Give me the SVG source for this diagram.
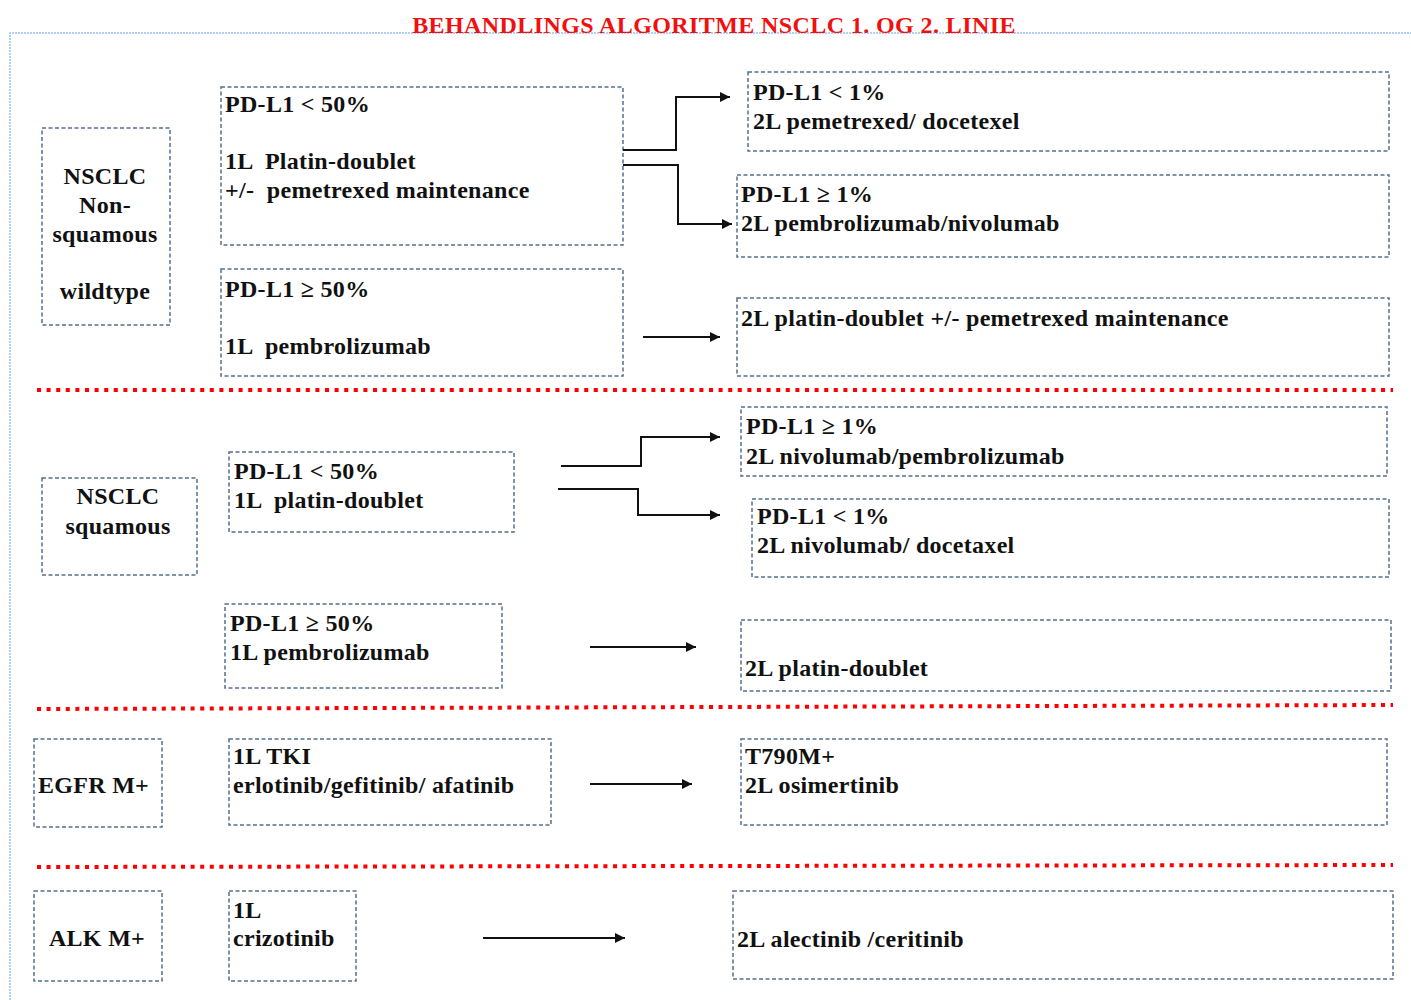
<svg xmlns="http://www.w3.org/2000/svg" width="1411" height="1000" viewBox="0 0 1411 1000">
<style>
.bx{fill:#fff;stroke:#52708f;stroke-width:1.5;stroke-dasharray:4 2.5}
.t{font-family:"Liberation Serif","Times New Roman",serif;font-weight:bold;font-size:24px;letter-spacing:0.3px;fill:#111}
.c{text-anchor:middle}
.sep{stroke:#f00;stroke-width:4;stroke-dasharray:4 5.6}
.cn{fill:none;stroke:#111;stroke-width:2}
</style>
<defs>
<marker id="ah" viewBox="0 0 10 10" refX="10" refY="5" markerWidth="5" markerHeight="5" orient="auto" markerUnits="strokeWidth">
<path d="M0,0 L10,5 L0,10 z" fill="#111"/>
</marker>
</defs>
<rect width="1411" height="1000" fill="#fff"/>
<path d="M10,1000 V33 H1411" fill="none" stroke="#9cc0f0" stroke-width="1.5" stroke-dasharray="2 1"/>
<text x="714" y="33" class="t c" style="fill:#f01010;font-size:24px;letter-spacing:0.4px">BEHANDLINGS ALGORITME NSCLC 1. OG 2. LINIE</text>
<g id="separators">
<line class="sep" x1="37" y1="390" x2="1393" y2="390"/>
<line class="sep" x1="37" y1="709" x2="1393" y2="705"/>
<line class="sep" x1="37" y1="867" x2="1393" y2="865"/>
</g>
<g id="n1"><rect class="bx" x="42" y="128" width="128" height="197"/>
<text class="t c" x="105" y="184">NSCLC</text><text class="t c" x="105" y="213">Non-</text><text class="t c" x="105" y="242">squamous</text><text class="t c" x="105" y="299">wildtype</text></g>
<g id="n2"><rect class="bx" x="221" y="87" width="402" height="158"/>
<text class="t" x="225" y="112">PD-L1 &lt; 50%</text><text class="t" x="225" y="169" xml:space="preserve">1L  Platin-doublet</text><text class="t" x="225" y="198" xml:space="preserve">+/-  pemetrexed maintenance</text></g>
<g id="n3"><rect class="bx" x="221" y="269" width="402" height="107"/>
<text class="t" x="225" y="297">PD-L1 ≥ 50%</text><text class="t" x="225" y="354" xml:space="preserve">1L  pembrolizumab</text></g>
<g id="n4"><rect class="bx" x="748" y="72" width="641" height="79"/>
<text class="t" x="753" y="100">PD-L1 &lt; 1%</text><text class="t" x="753" y="129">2L pemetrexed/ docetexel</text></g>
<g id="n5"><rect class="bx" x="737" y="175" width="652" height="82"/>
<text class="t" x="741" y="202">PD-L1 ≥ 1%</text><text class="t" x="741" y="231">2L pembrolizumab/nivolumab</text></g>
<g id="n6"><rect class="bx" x="737" y="298" width="652" height="78"/>
<text class="t" x="741" y="326">2L platin-doublet +/- pemetrexed maintenance</text></g>
<g id="n7"><rect class="bx" x="42" y="478" width="155" height="97"/>
<text class="t c" x="118" y="504">NSCLC</text><text class="t c" x="118" y="534">squamous</text></g>
<g id="n8"><rect class="bx" x="229" y="452" width="285" height="80"/>
<text class="t" x="234" y="479">PD-L1 &lt; 50%</text><text class="t" x="234" y="508" xml:space="preserve">1L  platin-doublet</text></g>
<g id="n9"><rect class="bx" x="741" y="407" width="646" height="69"/>
<text class="t" x="746" y="434">PD-L1 ≥ 1%</text><text class="t" x="746" y="464">2L nivolumab/pembrolizumab</text></g>
<g id="n10"><rect class="bx" x="752" y="499" width="637" height="78"/>
<text class="t" x="757" y="524">PD-L1 &lt; 1%</text><text class="t" x="757" y="553">2L nivolumab/ docetaxel</text></g>
<g id="n11"><rect class="bx" x="225" y="604" width="277" height="84"/>
<text class="t" x="230" y="631">PD-L1 ≥ 50%</text><text class="t" x="230" y="660">1L pembrolizumab</text></g>
<g id="n12"><rect class="bx" x="741" y="620" width="650" height="71"/>
<text class="t" x="745" y="676">2L platin-doublet</text></g>
<g id="n13"><rect class="bx" x="34" y="739" width="128" height="88"/>
<text class="t" x="38" y="793">EGFR M+</text></g>
<g id="n14"><rect class="bx" x="229" y="739" width="322" height="86"/>
<text class="t" x="233" y="764">1L TKI</text><text class="t" x="233" y="793">erlotinib/gefitinib/ afatinib</text></g>
<g id="n15"><rect class="bx" x="741" y="739" width="646" height="86"/>
<text class="t" x="745" y="764">T790M+</text><text class="t" x="745" y="793">2L osimertinib</text></g>
<g id="n16"><rect class="bx" x="34" y="891" width="128" height="90"/>
<text class="t c" x="97" y="946">ALK M+</text></g>
<g id="n17"><rect class="bx" x="229" y="891" width="127" height="90"/>
<text class="t" x="233" y="918">1L</text><text class="t" x="233" y="946">crizotinib</text></g>
<g id="n18"><rect class="bx" x="733" y="891" width="660" height="88"/>
<text class="t" x="737" y="947">2L alectinib /ceritinib</text></g>
<g id="connectors">
<path class="cn" d="M623,150 H676 V97 H730" marker-end="url(#ah)"/>
<path class="cn" d="M623,165 H678 V224 H732" marker-end="url(#ah)"/>
<path class="cn" d="M643,337 H720" marker-end="url(#ah)"/>
<path class="cn" d="M561,466 H641 V437 H720" marker-end="url(#ah)"/>
<path class="cn" d="M558,489 H638 V515 H720" marker-end="url(#ah)"/>
<path class="cn" d="M590,647 H696" marker-end="url(#ah)"/>
<path class="cn" d="M590,784 H692" marker-end="url(#ah)"/>
<path class="cn" d="M483,938 H625" marker-end="url(#ah)"/>
</g>
</svg>
